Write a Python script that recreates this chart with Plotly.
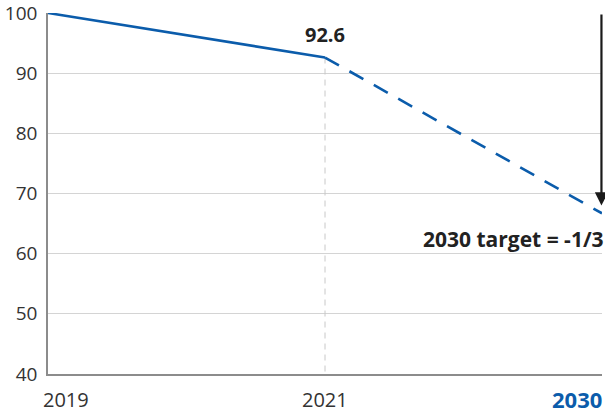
import plotly.graph_objects as go

categories = ["2019", "2021", "2030"]
x_pos = [0, 1, 2]
actual_values = [100, 92.6]
target_values = [92.6, 66.7]
arrow_end = 68.0
y_ticks = [40, 50, 60, 70, 80, 90, 100]

BLUE = "#0b5cab"
TEXT = "#333333"
FONT = "Open Sans"

fig = go.Figure()

# vertical guide at 2021
fig.add_trace(go.Scatter(x=[x_pos[1], x_pos[1]], y=[actual_values[1], 40], mode="lines",
                         line=dict(color="#c8c8c8", width=1, dash="6px,5px"),
                         hoverinfo="skip", showlegend=False))

fig.add_trace(go.Scatter(x=x_pos[:2], y=actual_values, mode="lines",
                         line=dict(color=BLUE, width=2.6), showlegend=False, cliponaxis=False))
fig.add_trace(go.Scatter(x=x_pos[1:], y=target_values, mode="lines",
                         line=dict(color=BLUE, width=2.6, dash="16px,12px"),
                         showlegend=False, cliponaxis=False))

# arrow
fig.add_annotation(x=x_pos[2] - 0.002, y=arrow_end, ax=x_pos[2] - 0.002, ay=100,
                   axref="x", ayref="y", xref="x", yref="y", text="",
                   showarrow=True, arrowhead=2, arrowsize=1.2, arrowwidth=2.2,
                   arrowcolor="#1a1a1a")

fig.add_annotation(x=x_pos[1], y=actual_values[1], text="<b>92.6</b>", showarrow=False,
                   yshift=23, font=dict(family=FONT, size=20, color="#222222"))
fig.add_annotation(x=x_pos[2], y=arrow_end, text="<b>2030 target = -1/3</b>", showarrow=False,
                   xanchor="right", yshift=-33, xshift=4,
                   font=dict(family=FONT, size=21, color="#222222"))

# x labels
anchors = ["left", "center", "right"]
shifts = [-7, 0, 2]
for i, c in enumerate(categories):
    last = i == len(categories) - 1
    fig.add_annotation(x=x_pos[i], y=0, xref="x", yref="paper", yanchor="top",
                       xanchor=anchors[i], xshift=shifts[i], yshift=-10 if not last else -8,
                       text=f"<b>{c}</b>" if last else c, showarrow=False,
                       font=dict(family=FONT, size=22 if last else 20,
                                 color=BLUE if last else TEXT))

fig.update_layout(
    width=605, height=414,
    margin=dict(l=48, r=3, t=13, b=40, autoexpand=False),
    paper_bgcolor="white", plot_bgcolor="white",
    font=dict(family=FONT, size=19, color=TEXT),
    xaxis=dict(range=[0, 2], showgrid=False, showticklabels=False, zeroline=False,
               showline=True, linecolor="#8c8c8c", linewidth=1.5, ticks="", automargin=False),
    yaxis=dict(range=[40, 100], tickvals=y_ticks, showgrid=True, gridcolor="#d4d4d4",
               gridwidth=1.2, zeroline=False, showline=True, linecolor="#8c8c8c",
               linewidth=1.5, ticks="", ticklabelstandoff=5, ticklabeloverflow="allow",
               automargin=False,
               tickfont=dict(family=FONT, size=19, color=TEXT)),
)

fig.write_html("out.html", config={"displayModeBar": False},
               post_script="document.body.style.margin='0';document.body.style.overflow='hidden';")
